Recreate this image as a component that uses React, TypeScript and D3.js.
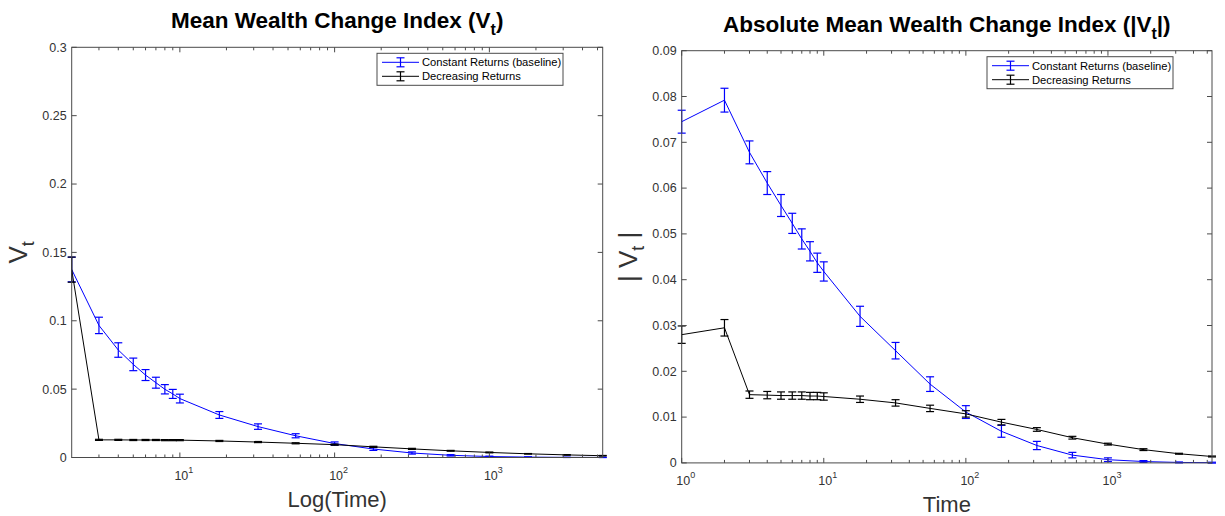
import React from "react"
import * as d3 from "d3"

// sample times (same for both panels, left panel starts at t = 2)
const times = [1, 2, 3, 4, 5, 6, 7, 8, 9, 10, 18, 32, 56, 100, 178, 316, 562, 1000, 1778, 3162, 5400]

// left panel: mean wealth change index V_t  (t = 2 ... 5400)
const meanConst = [0.1375, 0.0966, 0.0786, 0.0681, 0.0603, 0.0547, 0.0499, 0.0465, 0.0431, 0.0311, 0.0226, 0.0159, 0.0102, 0.0062, 0.0033, 0.0016, 0.0007, 0.0003, 0.0001, 0.00005]
const meanConstErr = [0.009, 0.006, 0.0053, 0.0046, 0.004, 0.004, 0.0034, 0.0033, 0.0032, 0.0025, 0.002, 0.0015, 0.0012, 0.001, 0.0008, 0.0005, 0.0003, 0.0002, 0.0001, 0.0001]
const meanDecr = [0.1374, 0.0129, 0.0129, 0.0128, 0.0128, 0.0128, 0.0127, 0.0127, 0.0127, 0.0121, 0.0113, 0.0104, 0.0094, 0.0078, 0.0063, 0.0049, 0.0037, 0.0027, 0.0019, 0.0013]
const meanDecrErr = [0.0092, 0.0004, 0.0004, 0.0004, 0.0004, 0.0004, 0.0004, 0.0004, 0.0004, 0.0004, 0.0004, 0.0004, 0.0004, 0.0004, 0.0004, 0.0003, 0.0003, 0.0002, 0.0002, 0.0002]

// right panel: absolute mean wealth change index |V_t|  (t = 1 ... 5400)
const absConst = [0.0745, 0.0792, 0.0678, 0.0611, 0.0562, 0.0523, 0.0489, 0.0462, 0.0437, 0.0418, 0.032, 0.0245, 0.0172, 0.0111, 0.0069, 0.0038, 0.0017, 0.0007, 0.0003, 0.0001, 0.00005]
const absConstErr = [0.0025, 0.0026, 0.0025, 0.0025, 0.0024, 0.0022, 0.0022, 0.0021, 0.0021, 0.0021, 0.0022, 0.0018, 0.0016, 0.0014, 0.0013, 0.0009, 0.0006, 0.0004, 0.0002, 0.0001, 0.0001]
const absDecr = [0.028, 0.0295, 0.0149, 0.0148, 0.0147, 0.0147, 0.0147, 0.0146, 0.0146, 0.0145, 0.0139, 0.0131, 0.0119, 0.0107, 0.0089, 0.0073, 0.0055, 0.0041, 0.0029, 0.002, 0.0014]
const absDecrErr = [0.0019, 0.0018, 0.0008, 0.0008, 0.0008, 0.0008, 0.0008, 0.0008, 0.0008, 0.0008, 0.0007, 0.0007, 0.0007, 0.0007, 0.0006, 0.0004, 0.0003, 0.0002, 0.0002, 0.0001, 0.0001]

const legendLabels = ["Constant Returns (baseline)", "Decreasing Returns"]
const leftYTicks = [0, 0.05, 0.1, 0.15, 0.2, 0.25, 0.3]
const rightYTicks = [0, 0.01, 0.02, 0.03, 0.04, 0.05, 0.06, 0.07, 0.08, 0.09]
const leftXDecades = [1, 2, 3]
const rightXDecades = [0, 1, 2, 3]

const AXIS = "#4a4a4a"
const LABEL = "#333"
const FONT = "'Liberation Sans', Arial, sans-serif"

type Series = { t: number[]; v: number[]; e: number[]; color: string }

const ErrLine = ({ s, x, y }: { s: Series; x: any; y: any }) => {
  const pts = s.t.map((t, i) => ({ t, v: s.v[i], e: s.e[i] }))
  const line = d3.line<any>().x(d => x(d.t)).y(d => y(d.v))
  return (
    <g>
      <path d={line(pts) || ""} fill="none" stroke={s.color} strokeWidth={1} />
      {pts.map((d, i) => {
        const cx = x(d.t)
        const y1 = y(d.v + d.e)
        const y2 = y(d.v - d.e)
        return (
          <g key={i} stroke={s.color} strokeWidth={1.2}>
            <line x1={cx} x2={cx} y1={y1} y2={y2} />
            <line x1={cx - 4} x2={cx + 4} y1={y1} y2={y1} />
            <line x1={cx - 4} x2={cx + 4} y1={y2} y2={y2} />
          </g>
        )
      })}
    </g>
  )
}

const Panel = (p: {
  left: number; right: number; top: number; bottom: number
  xMin: number; xMax: number; yMax: number
  yTicks: number[]; decades: number[]
  title: React.ReactNode; titleY: number
  ylabel: React.ReactNode; ylabelX: number
  xlabel: string; xlabelY: number
  series: Series[]; legendRight: number
}) => {
  const x = d3.scaleLog().domain([p.xMin, p.xMax]).range([p.left, p.right])
  const y = d3.scaleLinear().domain([0, p.yMax]).range([p.bottom, p.top])
  const minor: number[] = []
  for (let k = -1; k < 5; k++) {
    for (let m = 2; m < 10; m++) {
      const v = m * Math.pow(10, k)
      if (v > p.xMin && v < p.xMax) minor.push(v)
    }
  }
  const cx = (p.left + p.right) / 2
  const cy = (p.top + p.bottom) / 2
  const lw = 186, lh = 32
  const lx = p.legendRight - lw
  const ly = p.top + 6
  return (
    <g fontFamily={FONT}>
      {p.series.map((s, i) => <ErrLine key={i} s={s} x={x} y={y} />)}
      {/* box */}
      <rect x={p.left} y={p.top} width={p.right - p.left} height={p.bottom - p.top} fill="none" stroke={AXIS} strokeWidth={1} />
      {/* y ticks */}
      {p.yTicks.map(v => (
        <g key={v}>
          <line x1={p.left} x2={p.left + 5} y1={y(v)} y2={y(v)} stroke={AXIS} />
          <line x1={p.right} x2={p.right - 5} y1={y(v)} y2={y(v)} stroke={AXIS} />
          <text x={p.left - 5} y={y(v)} dy="0.35em" textAnchor="end" fontSize={12.5} fill={LABEL}>{String(+v.toFixed(2))}</text>
        </g>
      ))}
      {/* x ticks */}
      {p.decades.map(k => {
        const tx = x(Math.pow(10, k))
        return (
          <g key={k}>
            <line x1={tx} x2={tx} y1={p.bottom} y2={p.bottom - 5} stroke={AXIS} />
            <line x1={tx} x2={tx} y1={p.top} y2={p.top + 5} stroke={AXIS} />
            <text x={tx + 4} y={p.bottom + 22} textAnchor="middle" fontSize={12.5} fill={LABEL}>
              10<tspan dy={-7} fontSize={9}>{k}</tspan>
            </text>
          </g>
        )
      })}
      {minor.map(v => (
        <g key={v}>
          <line x1={x(v)} x2={x(v)} y1={p.bottom} y2={p.bottom - 3} stroke={AXIS} />
          <line x1={x(v)} x2={x(v)} y1={p.top} y2={p.top + 3} stroke={AXIS} />
        </g>
      ))}
      {/* titles */}
      <text x={cx} y={p.titleY} textAnchor="middle" fontSize={22.5} fontWeight="bold" fill="#000">{p.title}</text>
      <text x={cx} y={p.xlabelY} textAnchor="middle" fontSize={22} fill={LABEL}>{p.xlabel}</text>
      <text transform={`translate(${p.ylabelX},${cy}) rotate(-90)`} textAnchor="middle" fontSize={26} fill={LABEL}>{p.ylabel}</text>
      {/* legend */}
      <rect x={lx} y={ly} width={lw} height={lh} fill="#fff" stroke={AXIS} strokeWidth={1} />
      {p.series.map((s, i) => {
        const ry = ly + 9 + i * 14
        return (
          <g key={i}>
            <line x1={lx + 5} x2={lx + 42} y1={ry} y2={ry} stroke={s.color} />
            <g stroke={s.color} strokeWidth={1.2}>
              <line x1={lx + 23.5} x2={lx + 23.5} y1={ry - 4.5} y2={ry + 4.5} />
              <line x1={lx + 19.5} x2={lx + 27.5} y1={ry - 4.5} y2={ry - 4.5} />
              <line x1={lx + 19.5} x2={lx + 27.5} y1={ry + 4.5} y2={ry + 4.5} />
            </g>
            <text x={lx + 45} y={ry} dy="0.35em" fontSize={11.2} fill="#000">{legendLabels[i]}</text>
          </g>
        )
      })}
    </g>
  )
}

export default function App() {
  const tl = times.slice(1)
  return (
    <svg width={1225} height={516} style={{ position: "absolute", left: 0, top: 0, background: "#fff" }}>
      <rect width={1225} height={516} fill="#fff" />
      <Panel
        left={71.7} right={602.7} top={47.3} bottom={457.5}
        xMin={2} xMax={5400} yMax={0.3}
        yTicks={leftYTicks} decades={leftXDecades}
        title={<><tspan>Mean Wealth Change Index (V</tspan><tspan dy={7} fontSize={16}>t</tspan><tspan dy={-7}>)</tspan></>}
        titleY={28}
        ylabel={<><tspan>V</tspan><tspan dy={7} fontSize={18}>t</tspan></>}
        ylabelX={27}
        xlabel="Log(Time)" xlabelY={507}
        series={[
          { t: tl, v: meanConst, e: meanConstErr, color: "#0000ff" },
          { t: tl, v: meanDecr, e: meanDecrErr, color: "#000" },
        ]}
        legendRight={563}
      />
      <Panel
        left={681.7} right={1212} top={50.7} bottom={462.9}
        xMin={1} xMax={5400} yMax={0.09}
        yTicks={rightYTicks} decades={rightXDecades}
        title={<><tspan>Absolute Mean Wealth Change Index (|V</tspan><tspan dy={7} fontSize={16}>t</tspan><tspan dy={-7}>|)</tspan></>}
        titleY={32}
        ylabel={<><tspan>| V</tspan><tspan dy={7} fontSize={18}>t</tspan><tspan dy={-7}> |</tspan></>}
        ylabelX={637}
        xlabel="Time" xlabelY={512}
        series={[
          { t: times, v: absConst, e: absConstErr, color: "#0000ff" },
          { t: times, v: absDecr, e: absDecrErr, color: "#000" },
        ]}
        legendRight={1173}
      />
    </svg>
  )
}
